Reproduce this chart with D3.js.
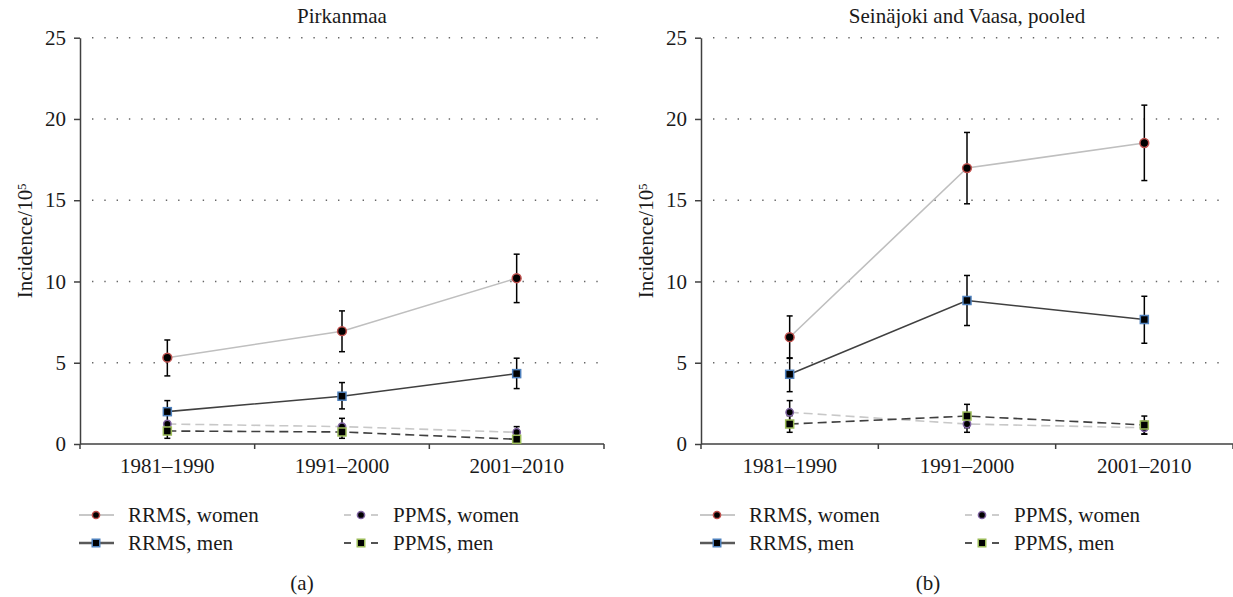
<!DOCTYPE html>
<html>
<head>
<meta charset="utf-8">
<script src="https://cdn.jsdelivr.net/npm/d3@7"></script>
<style>
  body { margin: 0; background: #fff; }
  svg text { font-family: "Liberation Serif", "DejaVu Serif", serif; }
</style>
</head>
<body>
<svg id="chart" width="1233" height="597"></svg>
<script>
// periods on the x axis
const periods = ["1981\u20131990", "1991\u20132000", "2001\u20132010"];
const yTicks = [0, 5, 10, 15, 20, 25];

// Pirkanmaa
const pirRrmsWomen = [5.31, 6.94, 10.2];
const pirRrmsWomenLo = [4.19, 5.68, 8.7];
const pirRrmsWomenHi = [6.4, 8.19, 11.68];
const pirRrmsMen = [1.99, 2.94, 4.33];
const pirRrmsMenLo = [1.31, 2.16, 3.41];
const pirRrmsMenHi = [2.67, 3.78, 5.28];
const pirPpmsWomen = [1.23, 1.07, 0.72];
const pirPpmsWomenLo = [0.8, 0.6, 0.4];
const pirPpmsWomenHi = [1.31, 1.58, 1.07];
const pirPpmsMen = [0.8, 0.74, 0.29];
const pirPpmsMenLo = [0.35, 0.35, 0.1];
const pirPpmsMenHi = [1.25, 1.13, 0.5];

// Seinäjoki and Vaasa, pooled
const svRrmsWomen = [6.57, 16.98, 18.52];
const svRrmsWomenLo = [5.27, 14.78, 16.21];
const svRrmsWomenHi = [7.88, 19.17, 20.85];
const svRrmsMen = [4.29, 8.83, 7.66];
const svRrmsMenLo = [3.22, 7.29, 6.2];
const svRrmsMenHi = [5.3, 10.37, 9.09];
const svPpmsWomen = [1.95, 1.23, 1.0];
const svPpmsWomenLo = [1.23, 0.72, 0.6];
const svPpmsWomenHi = [2.67, 1.74, 1.4];
const svPpmsMen = [1.23, 1.72, 1.17];
const svPpmsMenLo = [0.72, 1.0, 0.62];
const svPpmsMenHi = [1.74, 2.44, 1.72];

const seriesNames = ["RRMS, women", "RRMS, men", "PPMS, women", "PPMS, men"];

// look of each series (same order as seriesNames)
const styles = [
  {line: "#bfbfbf", dash: null, shape: "circle", edge: "#c0504d", size: 4.4},
  {line: "#404040", dash: null, shape: "square", edge: "#4f81bd", size: 8},
  {line: "#c8c8c8", dash: "9,5", shape: "circle", edge: "#8064a2", size: 3.7},
  {line: "#404040", dash: "9,5", shape: "square", edge: "#9bbb59", size: 8}
];

const panels = [
  {title: "Pirkanmaa", caption: "(a)", x0: 80, x1: 604, capX: 302,
   series: [[pirRrmsWomen, pirRrmsWomenLo, pirRrmsWomenHi],
            [pirRrmsMen, pirRrmsMenLo, pirRrmsMenHi],
            [pirPpmsWomen, pirPpmsWomenLo, pirPpmsWomenHi],
            [pirPpmsMen, pirPpmsMenLo, pirPpmsMenHi]]},
  {title: "Sein\u00e4joki and Vaasa, pooled", caption: "(b)", x0: 701, x1: 1233, capX: 928,
   series: [[svRrmsWomen, svRrmsWomenLo, svRrmsWomenHi],
            [svRrmsMen, svRrmsMenLo, svRrmsMenHi],
            [svPpmsWomen, svPpmsWomenLo, svPpmsWomenHi],
            [svPpmsMen, svPpmsMenLo, svPpmsMenHi]]}
];

const svg = d3.select("#chart");
const plotTop = 37.7, plotBottom = 444;
const fontSize = "21px";

const drawMarker = function(g, st, cx, cy) {
  if (st.shape == "circle") {
    g.append("circle").attr("cx", cx).attr("cy", cy).attr("r", st.size)
      .attr("fill", "#000").attr("stroke", st.edge).attr("stroke-width", 1.5);
  } else {
    g.append("rect").attr("x", cx - st.size / 2).attr("y", cy - st.size / 2)
      .attr("width", st.size).attr("height", st.size)
      .attr("fill", "#000").attr("stroke", st.edge).attr("stroke-width", 1.5);
  }
}

panels.forEach(function(p) {
  let g = svg.append("g");
  let xScale = d3.scaleBand().domain(periods).range([p.x0, p.x1]).padding(0);
  let yScale = d3.scaleLinear().domain([0, 25]).range([plotBottom, plotTop]);
  let xMid = (d) => xScale(d) + xScale.bandwidth() / 2;

  // dotted grid
  g.selectAll(".grid").data(yTicks.filter(t => t > 0)).enter().append("line")
    .attr("x1", p.x0 + 12).attr("x2", p.x1 - 4)
    .attr("y1", d => yScale(d)).attr("y2", d => yScale(d))
    .attr("stroke", "#666").attr("stroke-width", 1.4)
    .attr("stroke-dasharray", "1.4,10.9");

  // y axis
  let yAxis = g.append("g").attr("transform", "translate(" + p.x0 + ",0)")
    .call(d3.axisLeft(yScale).tickValues(yTicks).tickSize(6).tickPadding(8).tickSizeOuter(0));
  yAxis.select(".domain").attr("stroke", "#404040").attr("stroke-width", 1.5);
  yAxis.selectAll(".tick line").attr("stroke", "#404040").attr("stroke-width", 1.5);
  yAxis.selectAll("text").style("font-size", fontSize).attr("fill", "#1a1a1a");

  // x axis with ticks at the band edges
  g.append("line").attr("x1", p.x0).attr("x2", p.x1).attr("y1", plotBottom).attr("y2", plotBottom)
    .attr("stroke", "#404040").attr("stroke-width", 1.5);
  let edges = periods.map(d => xScale(d)).concat([p.x1]);
  g.selectAll(".xtick").data(edges).enter().append("line")
    .attr("x1", d => d).attr("x2", d => d).attr("y1", plotBottom).attr("y2", plotBottom + 5)
    .attr("stroke", "#404040").attr("stroke-width", 1.5);
  g.selectAll(".xlab").data(periods).enter().append("text")
    .attr("x", d => xMid(d)).attr("y", 473).attr("text-anchor", "middle")
    .style("font-size", fontSize).attr("fill", "#1a1a1a").text(d => d);

  // title
  g.append("text").attr("x", (p.x0 + p.x1) / 2).attr("y", 23).attr("text-anchor", "middle")
    .style("font-size", fontSize).attr("fill", "#1a1a1a").text(p.title);

  // y label
  let yl = g.append("text").attr("transform", "translate(" + (p.x0 - 48) + "," + ((plotTop + plotBottom) / 2) + ") rotate(-90)")
    .attr("text-anchor", "middle").style("font-size", fontSize).attr("fill", "#1a1a1a");
  yl.append("tspan").text("Incidence/10");
  yl.append("tspan").attr("dy", "-0.5em").style("font-size", "13px").text("5");

  // lines
  p.series.forEach(function(s, i) {
    let st = styles[i];
    let line = d3.line().x((d, j) => xMid(periods[j])).y(d => yScale(d));
    g.append("path").attr("d", line(s[0])).attr("fill", "none")
      .attr("stroke", st.line).attr("stroke-width", 1.6)
      .attr("stroke-dasharray", st.dash);
  });

  // error bars
  p.series.forEach(function(s) {
    s[0].forEach(function(v, j) {
      let cx = xMid(periods[j]);
      let eb = g.append("g").attr("stroke", "#000").attr("stroke-width", 1.5);
      eb.append("line").attr("x1", cx).attr("x2", cx).attr("y1", yScale(s[1][j])).attr("y2", yScale(s[2][j]));
      [s[1][j], s[2][j]].forEach(function(e) {
        eb.append("line").attr("x1", cx - 3).attr("x2", cx + 3).attr("y1", yScale(e)).attr("y2", yScale(e));
      });
    });
  });

  // markers
  p.series.forEach(function(s, i) {
    s[0].forEach(function(v, j) {
      drawMarker(g, styles[i], xMid(periods[j]), yScale(v));
    });
  });

  // legend
  let legendPos = [[0, 515], [0, 543], [265, 515], [265, 543]];
  seriesNames.forEach(function(name, i) {
    let st = styles[i];
    let lx = p.x0 - 1 + legendPos[i][0];
    let ly = legendPos[i][1];
    let lg = g.append("g");
    if (st.dash) {
      lg.append("line").attr("x1", lx).attr("x2", lx + 7).attr("y1", ly).attr("y2", ly)
        .attr("stroke", st.line).attr("stroke-width", 1.8);
      lg.append("line").attr("x1", lx + 27).attr("x2", lx + 34).attr("y1", ly).attr("y2", ly)
        .attr("stroke", st.line).attr("stroke-width", 1.8);
    } else {
      lg.append("line").attr("x1", lx).attr("x2", lx + 35).attr("y1", ly).attr("y2", ly)
        .attr("stroke", i == 1 ? "#595959" : "#c8c8c8").attr("stroke-width", i == 1 ? 2.5 : 1.8);
    }
    drawMarker(lg, {shape: st.shape, edge: st.edge, size: st.shape == "circle" ? 3.6 : 7.5}, lx + 17, ly);
    lg.append("text").attr("x", lx + 49).attr("y", ly).attr("dy", "0.33em")
      .style("font-size", fontSize).attr("fill", "#1a1a1a").text(name);
  });

  // caption
  g.append("text").attr("x", p.capX).attr("y", 590).attr("text-anchor", "middle")
    .style("font-size", fontSize).attr("fill", "#1a1a1a").text(p.caption);
});
</script>
</body>
</html>
